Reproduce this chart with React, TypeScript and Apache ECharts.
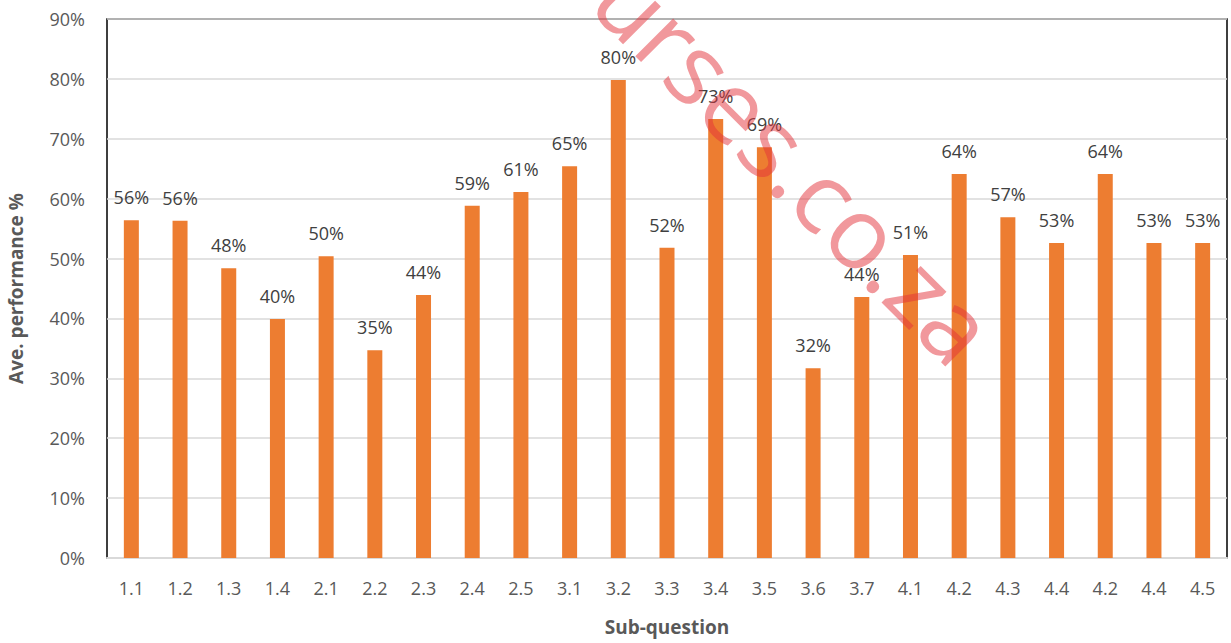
import React, { useEffect, useRef } from "react";
import * as echarts from "echarts";

const categories = ["1.1", "1.2", "1.3", "1.4", "2.1", "2.2", "2.3", "2.4", "2.5", "3.1", "3.2", "3.3", "3.4", "3.5", "3.6", "3.7", "4.1", "4.2", "4.3", "4.4", "4.2", "4.4", "4.5"];
const performance = [56.4, 56.3, 48.4, 39.9, 50.4, 34.7, 43.9, 58.8, 61.1, 65.4, 79.8, 51.8, 73.3, 68.6, 31.7, 43.6, 50.6, 64.1, 56.9, 52.6, 64.1, 52.6, 52.6];
const yTicks = { min: 0, max: 90, interval: 10 };
const xTitle = "Sub-question";
const yTitle = "Ave. performance %";
const watermark = "urses.co.za";

const FONT = "'Open Sans', 'Liberation Sans', sans-serif";

export default function App() {
  const ref = useRef<HTMLDivElement>(null);
  useEffect(() => {
    if (!ref.current) return;
    const chart = echarts.init(ref.current, null, { renderer: "svg" });
    chart.setOption({
      animation: false,
      backgroundColor: "#ffffff",
      textStyle: { fontFamily: FONT },
      grid: {
        left: 107,
        right: 4,
        top: 19,
        bottom: 85,
        outerBoundsMode: "none",
        containLabel: false,
        show: true,
        borderColor: "#000000",
        borderWidth: 1.5,
        backgroundColor: "transparent",
      },
      xAxis: {
        type: "category",
        data: categories,
        name: xTitle,
        nameLocation: "middle",
        nameGap: 59,
        nameTextStyle: { fontFamily: FONT, fontSize: 19, fontWeight: "bold", color: "#595959" },
        axisLine: { show: true, lineStyle: { color: "#d9d9d9", width: 2 } },
        axisTick: { show: false },
        axisLabel: { margin: 21, fontFamily: FONT, fontSize: 18, color: "#595959", interval: 0 },
      },
      yAxis: {
        type: "value",
        min: yTicks.min,
        max: yTicks.max,
        interval: yTicks.interval,
        name: yTitle,
        nameLocation: "middle",
        nameGap: 82,
        nameTextStyle: { fontFamily: FONT, fontSize: 19, fontWeight: "bold", color: "#595959" },
        axisLine: { show: false },
        axisTick: { show: false },
        axisLabel: { margin: 22, fontFamily: FONT, fontSize: 18, color: "#595959", formatter: "{value}%" },
        splitLine: { show: true, lineStyle: { color: "#d9d9d9", width: 1.5 } },
      },
      series: [
        {
          type: "bar",
          data: performance,
          barWidth: 15,
          itemStyle: { color: "#ed7d31" },
          label: {
            show: true,
            position: "top",
            distance: 14,
            fontFamily: FONT,
            fontSize: 18,
            color: "#404040",
            formatter: (p: any) => Math.round(p.value) + "%",
          },
        },
      ],
      graphic: [
        {
          type: "text",
          x: 796,
          y: 162,
          rotation: (-45 * Math.PI) / 180,
          z: 100,
          silent: true,
          style: {
            text: watermark,
            fontFamily: FONT,
            fontSize: 100,
            fill: "rgba(228, 50, 58, 0.5)",
            align: "center",
            verticalAlign: "middle",
          },
        },
      ],
    });
    return () => chart.dispose();
  }, []);
  return <div ref={ref} style={{ width: 1231, height: 643, position: "absolute", left: 0, top: 0 }} />;
}
